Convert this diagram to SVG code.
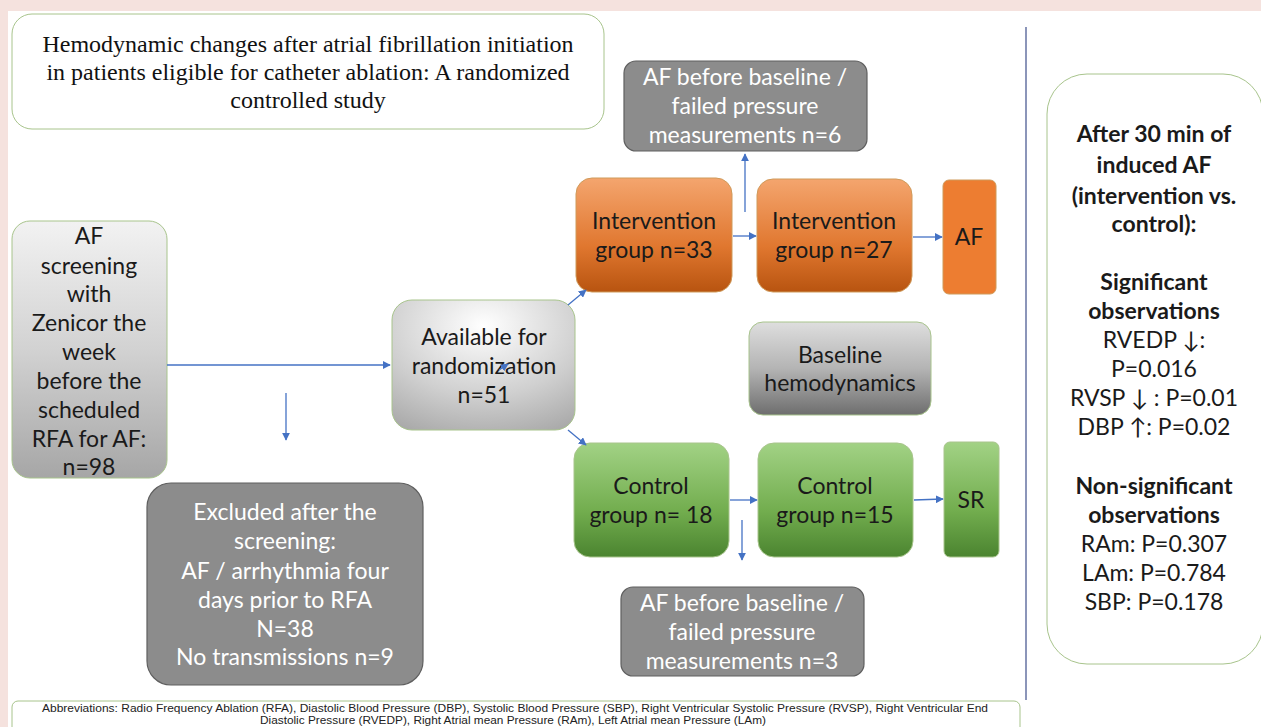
<svg xmlns="http://www.w3.org/2000/svg" width="1261" height="727" viewBox="0 0 1261 727">
<defs>
<linearGradient id="gOr" x1="0" y1="0" x2="0" y2="1"><stop offset="0" stop-color="#f4a56e"/><stop offset="0.6" stop-color="#e0772f"/><stop offset="1" stop-color="#b85410"/></linearGradient>
<linearGradient id="gGr" x1="0" y1="0" x2="0" y2="1"><stop offset="0" stop-color="#a2d285"/><stop offset="0.6" stop-color="#72ad4e"/><stop offset="1" stop-color="#4b8430"/></linearGradient>
<linearGradient id="gGy" x1="0" y1="0" x2="0" y2="1"><stop offset="0" stop-color="#f2f2f2"/><stop offset="0.5" stop-color="#d2d2d2"/><stop offset="1" stop-color="#a6a6a6"/></linearGradient>
<linearGradient id="gDk" x1="0" y1="0" x2="0" y2="1"><stop offset="0" stop-color="#dedede"/><stop offset="0.5" stop-color="#b4b4b4"/><stop offset="1" stop-color="#6e6e6e"/></linearGradient>
<radialGradient id="gRad" cx="0.5" cy="0.2" r="0.9"><stop offset="0" stop-color="#ffffff"/><stop offset="0.6" stop-color="#cfcfcf"/><stop offset="1" stop-color="#a9a9a9"/></radialGradient>
<marker id="ah" viewBox="0 0 10 10" refX="9" refY="5" markerWidth="8" markerHeight="8" markerUnits="userSpaceOnUse" orient="auto"><path d="M0,0 L10,5 L0,10 z" fill="#4472c4"/></marker>
</defs>
<style>
.t{font-family:Lato,"Open Sans","Liberation Sans",sans-serif;font-size:23px;text-anchor:middle}
.w{fill:#ffffff}
.k{fill:#1a1a1a}
.b{font-weight:bold}
.ser{font-family:"Liberation Serif","Times New Roman",serif;font-size:24px;text-anchor:middle;fill:#111}
.ab{font-family:"Liberation Sans",sans-serif;font-size:10.5px;text-anchor:middle;fill:#222}
.c{stroke:#4472c4;stroke-width:1.3;fill:none;marker-end:url(#ah)}
.gs{stroke:#a8c48c;stroke-width:1}
.os{stroke:#cf9a5a;stroke-width:1}
.ds{stroke:#5f5f5f;stroke-width:1.2}
</style>
<rect x="0" y="0" width="1261" height="727" fill="#f5e2de"/>
<rect x="8" y="11" width="1253" height="716" fill="#ffffff"/>
<line x1="1026" y1="27" x2="1026" y2="700" stroke="#4d5c94" stroke-width="1.3"/>

<g id="title">
<rect x="12" y="14" width="592" height="115" rx="20" fill="#ffffff" class="gs"/>
<text class="ser" x="308" y="52">Hemodynamic changes after atrial fibrillation initiation</text>
<text class="ser" x="308" y="80">in patients eligible for catheter ablation: A randomized</text>
<text class="ser" x="308" y="108">controlled study</text>
</g>

<g id="screening">
<rect x="12" y="221" width="155" height="257" rx="18" fill="url(#gGy)" class="gs"/>
<text class="t k" x="89" y="244">AF</text>
<text class="t k" x="89" y="274">screening</text>
<text class="t k" x="89" y="302">with</text>
<text class="t k" x="89" y="331">Zenicor the</text>
<text class="t k" x="89" y="360">week</text>
<text class="t k" x="89" y="389">before the</text>
<text class="t k" x="89" y="418">scheduled</text>
<text class="t k" x="89" y="447">RFA for AF:</text>
<text class="t k" x="89" y="475">n=98</text>
</g>

<g id="excluded">
<rect x="147" y="483" width="276" height="202" rx="24" fill="#8c8c8c" class="ds"/>
<text class="t w" x="285" y="520">Excluded after the</text>
<text class="t w" x="285" y="549">screening:</text>
<text class="t w" x="285" y="579">AF / arrhythmia four</text>
<text class="t w" x="285" y="608">days prior to RFA</text>
<text class="t w" x="285" y="637">N=38</text>
<text class="t w" x="285" y="665">No transmissions n=9</text>
</g>

<g id="randomization">
<rect x="392" y="300" width="183" height="130" rx="20" fill="url(#gRad)" class="gs"/>
<text class="t k" x="484" y="345">Available for</text>
<text class="t k" x="484" y="374">randomization</text>
<text class="t k" x="484" y="403">n=51</text>
</g>

<g id="excl-int">
<rect x="624" y="61" width="243" height="90" rx="12" fill="#8c8c8c" class="ds"/>
<text class="t w" x="745" y="85">AF before baseline /</text>
<text class="t w" x="745" y="114">failed pressure</text>
<text class="t w" x="745" y="143">measurements n=6</text>
</g>

<g id="int33">
<rect x="576" y="178" width="156" height="114" rx="16" fill="url(#gOr)" class="os"/>
<text class="t k" x="654" y="229">Intervention</text>
<text class="t k" x="654" y="258">group n=33</text>
</g>

<g id="int27">
<rect x="757" y="179" width="155" height="113" rx="16" fill="url(#gOr)" class="os"/>
<text class="t k" x="834" y="229">Intervention</text>
<text class="t k" x="834" y="258">group n=27</text>
</g>

<g id="af">
<rect x="943" y="180" width="53" height="114" rx="6" fill="#ed7d31" class="os"/>
<text class="t k" x="969" y="245">AF</text>
</g>

<g id="baseline">
<rect x="749" y="322" width="182" height="93" rx="14" fill="url(#gDk)" class="gs"/>
<text class="t k" x="840" y="363">Baseline</text>
<text class="t k" x="840" y="391">hemodynamics</text>
</g>

<g id="ctl18">
<rect x="574" y="443" width="155" height="114" rx="16" fill="url(#gGr)" class="gs"/>
<text class="t k" x="651" y="494">Control</text>
<text class="t k" x="651" y="523">group n= 18</text>
</g>

<g id="ctl15">
<rect x="758" y="443" width="155" height="114" rx="16" fill="url(#gGr)" class="gs"/>
<text class="t k" x="835" y="494">Control</text>
<text class="t k" x="835" y="523">group n=15</text>
</g>

<g id="sr">
<rect x="944" y="442" width="55" height="115" rx="6" fill="url(#gGr)" class="gs"/>
<text class="t k" x="971" y="508">SR</text>
</g>

<g id="excl-ctl">
<rect x="621" y="587" width="243" height="89" rx="12" fill="#8c8c8c" class="ds"/>
<text class="t w" x="742" y="611">AF before baseline /</text>
<text class="t w" x="742" y="640">failed pressure</text>
<text class="t w" x="742" y="669">measurements n=3</text>
</g>

<g id="results">
<rect x="1047" y="74" width="216" height="590" rx="40" fill="#ffffff" class="gs"/>
<text class="t k b" x="1154" y="142">After 30 min of</text>
<text class="t k b" x="1154" y="173">induced AF</text>
<text class="t k b" x="1154" y="204">(intervention vs.</text>
<text class="t k b" x="1154" y="232">control):</text>
<text class="t k b" x="1154" y="290">Significant</text>
<text class="t k b" x="1154" y="319">observations</text>
<text class="t k" x="1154" y="348">RVEDP ↓:</text>
<text class="t k" x="1154" y="377">P=0.016</text>
<text class="t k" x="1154" y="406">RVSP ↓ : P=0.01</text>
<text class="t k" x="1154" y="435">DBP ↑: P=0.02</text>
<text class="t k b" x="1154" y="494">Non-significant</text>
<text class="t k b" x="1154" y="523">observations</text>
<text class="t k" x="1154" y="552">RAm: P=0.307</text>
<text class="t k" x="1154" y="581">LAm: P=0.784</text>
<text class="t k" x="1154" y="610">SBP: P=0.178</text>
</g>

<g id="abbrev">
<rect x="12" y="701" width="1008" height="40" rx="6" fill="#ffffff" class="gs"/>
<text class="ab" x="515" y="712" textLength="946" lengthAdjust="spacingAndGlyphs">Abbreviations: Radio Frequency Ablation (RFA),  Diastolic Blood Pressure (DBP), Systolic Blood Pressure (SBP), Right Ventricular Systolic Pressure (RVSP), Right Ventricular End</text>
<text class="ab" x="513" y="724" textLength="506" lengthAdjust="spacingAndGlyphs">Diastolic Pressure (RVEDP), Right Atrial mean Pressure (RAm),  Left Atrial mean Pressure (LAm)</text>
</g>

<g id="connectors">
<line class="c" x1="167" y1="365" x2="390" y2="365"/>
<line class="c" x1="286" y1="393" x2="286" y2="440"/>
<line class="c" x1="568" y1="305" x2="586" y2="290"/>
<line class="c" x1="568" y1="430" x2="586" y2="445"/>
<line class="c" x1="499" y1="370" x2="508" y2="364"/>
<line class="c" x1="733" y1="236" x2="756" y2="236"/>
<line class="c" x1="745" y1="212" x2="745" y2="154"/>
<line class="c" x1="913" y1="237" x2="942" y2="237"/>
<line class="c" x1="730" y1="500" x2="757" y2="500"/>
<line class="c" x1="914" y1="500" x2="943" y2="499"/>
<line class="c" x1="742" y1="520" x2="742" y2="560"/>
</g>
</svg>
